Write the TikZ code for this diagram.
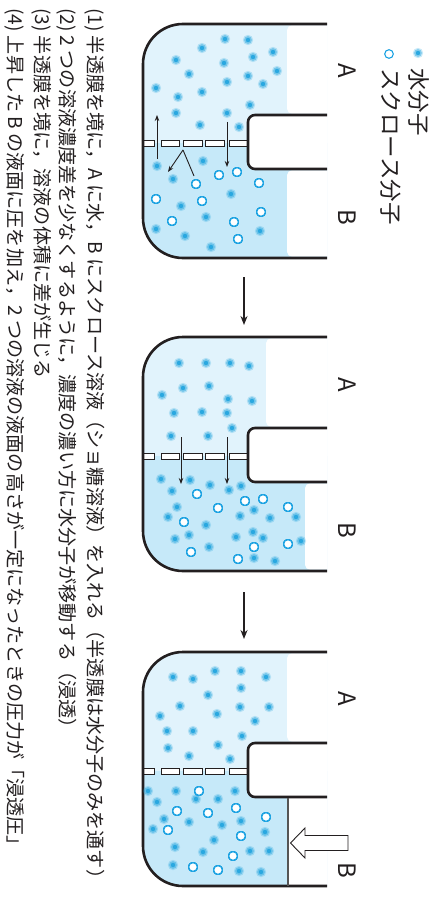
\documentclass[tikz,border=0pt]{standalone}
\usepackage{fontspec}
\setmainfont{Noto Sans CJK JP}
\usetikzlibrary{arrows.meta}

\definecolor{liqA}{HTML}{E1F3FC}
\definecolor{liqB}{HTML}{C6E9F9}
\definecolor{wcore}{HTML}{2AA8E0}
\definecolor{sucr}{HTML}{1CA3E3}
\definecolor{ink}{HTML}{231F20}
\definecolor{piston}{HTML}{555555}

\tikzset{
  wall/.style={ink,line width=2.6},
  capline/.style={rotate=-90,anchor=west,inner sep=0,font=\fontsize{19.1}{20}\selectfont,text=ink},
  lab/.style={rotate=-90,inner sep=0,font=\fontsize{24}{24}\selectfont,text=ink},
  legtext/.style={rotate=-90,anchor=west,inner sep=0,font=\fontsize{22.5}{23}\selectfont,text=ink},
  flow/.style={ink,line width=0.9,-{Stealth[length=6,width=4.5]}},
  step arrow/.style={ink,line width=1.5,-{Stealth[length=9,width=7]}},
}

% water molecule: soft blue dot
\newcommand\watermol[2]{%
  \fill[wcore,opacity=.25] (#1,#2) circle (5.2);
  \fill[wcore,opacity=.45] (#1,#2) circle (3.9);
  \fill[wcore] (#1,#2) circle (2.2);}
% sucrose molecule: open ring
\newcommand\sucmol[2]{\draw[sucr,fill=white,line width=1.1] (#1,#2) circle (4.3);}

% U-tube with a membrane: #1 top edge, #2 level in A, #3 level in B, #4 corner radius of B's surface
\newcommand\vessel[4]{%
  \begin{scope}
    \clip (143,#1) rectangle (327,#1+234);
    \clip[rounded corners=40] (440,#1) -- (143,#1) -- (143,#1+234) -- (440,#1+234) -- cycle;
    \fill[liqA] (143,#1) rectangle (440,#1+119);
    \fill[liqB] (143,#1+119) rectangle (440,#1+234);
    \fill[white,rounded corners=5] (#2,#1+1.3) rectangle (460,#1+89.7);
    \fill[white,rounded corners=#4] (#3,#1+146.3) rectangle (460,#1+232.7);
    \fill[white,rounded corners=7] (248,#1+91) rectangle (460,#1+145);
  \end{scope}
  \foreach \xa/\xb in {143/154,161/179,183/202,205/224,229/248}
    \draw[ink,fill=white,line width=0.9] (\xa,#1+116) rectangle (\xb,#1+122);
  \draw[wall,rounded corners=40] (327,#1) -- (143,#1) -- (143,#1+234) -- (327,#1+234);
  \draw[wall,rounded corners=7] (327,#1+91) -- (248,#1+91) -- (248,#1+145) -- (327,#1+145);
}

\begin{document}
\begin{tikzpicture}[x=1pt,y=-1pt]
\useasboundingbox (0,0) rectangle (438,901);

% ---------- stage 1 ----------
\vessel{24}{287}{287}{5}
\foreach \x/\y in {225/39,248/40,202/48,273/52,253/57,176/60,224/63,277/71,189/74,248/76,
  227/82,263/84,156/88,202/92,178/97,250/105,176/113,227/113,200/125,239/127,
  157/166,203/161,173/179,231/194,181/206,206/217,156/229,260/231,185/236,211/247}
  \watermol{\x}{\y}
\foreach \x/\y in {196/184,219/175,237/172,259/183,156/199,202/201,261/212,172/221,234/222,238/239}
  \sucmol{\x}{\y}
\coordinate (up0) at (157,159);  \coordinate (up1) at (157,115);
\coordinate (dn0) at (227,122);  \coordinate (dn1) at (227,167);
\coordinate (vtx) at (183,150);  \coordinate (vw) at (168,172);  \coordinate (vs) at (194,176);
\draw[flow] (up0) -- (up1);
\draw[flow] (dn0) -- (dn1);
\draw[flow] (vtx) -- (vw);
\draw[ink,line width=0.9] (vtx) -- (vs);
\node[lab] (A1) at (347,71) {A};
\node[lab] (B1) at (347,217) {B};

% ---------- stage 2 ----------
\coordinate (s1a) at (244,277); \coordinate (s1b) at (244,325);
\draw[step arrow] (s1a) -- (s1b);
\vessel{337}{266}{305}{5}
\foreach \x/\y in {179/363,206/363,230/363,249/366,183/388,209/386,162/395,228/399,252/401,
  174/413,202/412,227/413,232/428,171/436,208/436,
  161/479,190/480,172/491,210/485,229/490,241/486,177/507,254/510,240/516,270/518,296/517,
  168/517,206/525,189/535,175/539,236/537,253/532,263/538,301/541,209/547,254/558,275/561}
  \watermol{\x}{\y}
\foreach \x/\y in {197/494,218/508,245/501,263/499,288/507,184/522,254/547,288/544,191/552,238/559}
  \sucmol{\x}{\y}
\coordinate (p2a0) at (181,437); \coordinate (p2a1) at (181,484);
\coordinate (p2b0) at (227,437); \coordinate (p2b1) at (227,484);
\draw[flow] (p2a0) -- (p2a1);
\draw[flow] (p2b0) -- (p2b1);
\node[lab] (A2) at (347,385) {A};
\node[lab] (B2) at (347,530) {B};

% ---------- stage 3 ----------
\coordinate (s2a) at (244,592); \coordinate (s2b) at (244,639);
\draw[step arrow] (s2a) -- (s2b);
\vessel{652}{287}{288}{0}
\foreach \x/\y in {173/677,193/679,215/671,241/671,266/677,241/688,208/695,180/706,240/707,
  269/707,217/714,160/716,255/721,167/731,193/731,242/736,168/748,218/745,189/756,230/759,
  148/791,176/791,196/799,218/799,235/791,157/802,164/819,189/822,222/825,241/821,153/829,
  265/832,214/840,175/847,203/852,250/851,269/851,173/865,239/871,261/872}
  \watermol{\x}{\y}
\foreach \x/\y in {199/791,177/811,208/813,236/808,266/817,168/830,241/836,233/856,193/867,218/870}
  \sucmol{\x}{\y}
\coordinate (pis0) at (288,798); \coordinate (pis1) at (288,886);
\draw[piston,line width=1.2] (pis0) -- (pis1);
% applied pressure
\draw[ink,fill=white,line width=0.9] (348,835.5) -- (305,835.5) -- (305,828) -- (290.5,843)
  -- (305,858) -- (305,850.5) -- (348,850.5) -- cycle;
\node[lab] (A3) at (347,699) {A};
\node[lab] (B3) at (347,870) {B};

% ---------- legend ----------
\watermol{418}{53}
\sucmol{389}{54}
\node[legtext] (legW) at (419,68) {水分子};
\node[legtext] (legS) at (391,68) {スクロース分子};

% ---------- captions ----------
\node[capline] (c1) at (95,8) {(1) 半透膜を境に，A に水，B にスクロース溶液（ショ糖溶液）を入れる（半透膜は水分子のみを通す）};
\node[capline] (c2) at (67,8) {(2) 2 つの溶液濃度差を少なくするように，濃度の濃い方に水分子が移動する（浸透）};
\node[capline] (c3) at (42,8) {(3) 半透膜を境に，溶液の体積に差が生じる};
\node[capline] (c4) at (15,8) {(4) 上昇した B の液面に圧を加え，2 つの溶液の液面の高さが一定になったときの圧力が「浸透圧」};
\end{tikzpicture}
\end{document}
